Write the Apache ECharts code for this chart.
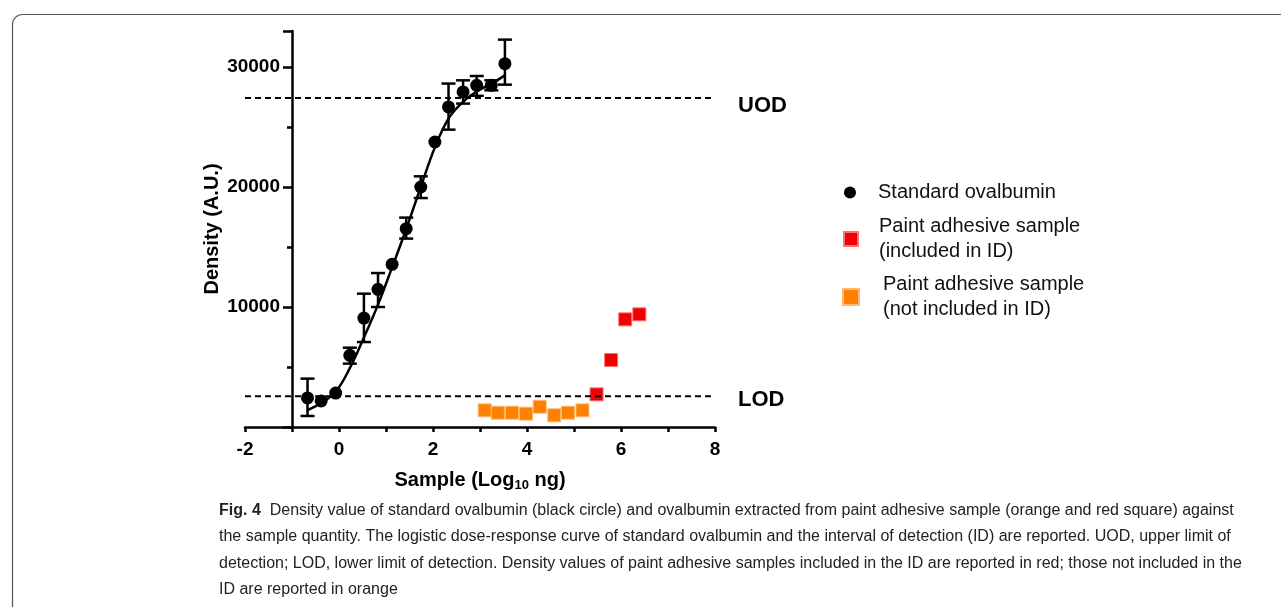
<!DOCTYPE html>
<html>
<head>
    <meta charset="utf-8">
    <title>Fig. 4</title>
    <script src="https://cdn.jsdelivr.net/npm/echarts@6/dist/echarts.min.js"></script>
    <style>
        html, body { margin: 0; padding: 0; background: #fff; }
        #main { width: 1281px; height: 607px; }
    </style>
</head>
<body>
<div id="main"></div>
<script type="text/javascript">
    // standard ovalbumin (black circles) with error bars
    var stdX = [-0.67, -0.38, -0.07, 0.23, 0.53, 0.83, 1.13, 1.43, 1.74, 2.04, 2.33, 2.64, 2.93, 3.24, 3.53];
    var stdY = [2420, 2170, 2830, 5970, 9080, 11470, 13560, 16530, 20000, 23750, 26670, 27920, 28470, 28470, 30280];
    var errLow = [920, null, null, 5280, 7080, 10000, null, 15700, 19080, null, 24780, 26950, 27600, 28060, 28530];
    var errHigh = [4030, null, null, 6610, 11110, 12830, null, 17450, 20890, null, 28620, 28890, 29250, 28890, 32280];

    // logistic dose-response curve
    var curveX = [-0.67, -0.38, -0.07, 0.23, 0.53, 0.83, 1.13, 1.43, 1.74, 2.04, 2.33, 2.64, 2.93, 3.24, 3.53];
    var curveY = [1400, 2000, 2950, 4900, 7450, 10200, 13300, 16500, 20000, 23300, 25700, 27100, 27950, 28600, 29300];

    // paint adhesive samples
    var orangeX = [3.10, 3.38, 3.68, 3.98, 4.27, 4.58, 4.87, 5.18];
    var orangeY = [1390, 1190, 1190, 1110, 1690, 975, 1190, 1390];
    var redX = [5.48, 5.79, 6.09, 6.39];
    var redY = [2720, 5580, 8970, 9390];

    // detection limits
    var limitX = [-2, 8];
    var UOD = 27420;
    var LOD = 2560;

    var xTicks = [-2, 0, 2, 4, 6, 8];
    var yTicks = [10000, 20000, 30000];

    var captionLines = [
        'the sample quantity. The logistic dose-response curve of standard ovalbumin and the interval of detection (ID) are reported. UOD, upper limit of',
        'detection; LOD, lower limit of detection. Density values of paint adhesive samples included in the ID are reported in red; those not included in the',
        'ID are reported in orange'
    ];

    function zip(xs, ys) {
        var out = [];
        for (var i = 0; i < xs.length; i++) out.push([xs[i], ys[i]]);
        return out;
    }

    var errData = [];
    for (var i = 0; i < stdX.length; i++) {
        if (errLow[i] != null) errData.push([stdX[i], errLow[i], errHigh[i]]);
    }

    var FONT = '"Liberation Sans", Arial, sans-serif';
    var nameInc = 'Paint adhesive sample (included in ID)';
    var nameNot = 'Paint adhesive sample (not included in ID)';

    var chart = echarts.init(document.getElementById('main'));

    var graphics = [
        {
            type: 'rect', left: 10, top: 12, z: -1,
            shape: {width: 1300, height: 640, r: 10},
            style: {fill: 'none', stroke: '#555', lineWidth: 1.2}
        },
        {
            type: 'text', left: 219, top: 503,
            style: {
                text: '{b|Fig. 4}{n|  Density value of standard ovalbumin (black circle) and ovalbumin extracted from paint adhesive sample (orange and red square) against}',
                rich: {
                    b: {fontFamily: FONT, fontWeight: 'bold', fontSize: 16, fill: '#222'},
                    n: {fontFamily: FONT, fontSize: 16, fill: '#222'}
                }
            }
        }
    ];
    for (var k = 0; k < captionLines.length; k++) {
        graphics.push({
            type: 'text', left: 219, top: 529 + k * 26.5,
            style: {text: captionLines[k], fontFamily: FONT, fontSize: 16, fill: '#222'}
        });
    }

    function legendBox(name, top, iconType, size, pad) {
        return {
            data: [{name: name, icon: iconType}],
            left: 845 - size / 2, top: top,
            orient: 'vertical',
            itemWidth: size, itemHeight: size,
            selectedMode: false,
            formatter: function (n) {
                if (n === nameInc) return 'Paint adhesive sample\n(included in ID)';
                if (n === nameNot) return 'Paint adhesive sample\n(not included in ID)';
                return n;
            },
            textStyle: {
                fontFamily: FONT, fontSize: 20, color: '#111', lineHeight: 25,
                padding: [0, 0, 0, pad]
            }
        };
    }

    var option = {
        animation: false,
        textStyle: {fontFamily: FONT},
        graphic: graphics,
        legend: [
            legendBox('Standard ovalbumin', 175, 'circle', 12, 17),
            legendBox(nameInc, 209, 'rect', 14, 16),
            legendBox(nameNot, 267, 'rect', 16, 19)
        ],
        grid: {left: 245, right: 566, top: 31, bottom: 180},
        xAxis: {
            type: 'value', min: -2, max: 8, interval: 2,
            name: '{b|Sample (Log}{s|10}{b| ng)}',
            nameLocation: 'middle', nameGap: 42,
            nameTextStyle: {
                rich: {
                    b: {fontFamily: FONT, fontWeight: 'bold', fontSize: 20, color: '#000'},
                    s: {fontFamily: FONT, fontWeight: 'bold', fontSize: 13, color: '#000', verticalAlign: 'bottom', padding: [10, 0, 0, 0]}
                }
            },
            axisLine: {onZero: false, lineStyle: {color: '#000', width: 2.5}},
            axisTick: {length: 5, lineStyle: {color: '#000', width: 2.5}},
            minorTick: {show: true, splitNumber: 2, length: 5, lineStyle: {color: '#000', width: 2.5}},
            splitLine: {show: false},
            axisLabel: {color: '#000', fontWeight: 'bold', fontSize: 19, margin: 13, fontFamily: FONT}
        },
        yAxis: {
            type: 'value', min: 0, max: 33000, interval: 10000,
            offset: -47,
            name: 'Density (A.U.)',
            nameLocation: 'middle', nameGap: 70,
            nameTextStyle: {fontFamily: FONT, fontWeight: 'bold', fontSize: 20, color: '#000'},
            axisLine: {show: true, onZero: false, lineStyle: {color: '#000', width: 2.5}},
            axisTick: {length: 9, lineStyle: {color: '#000', width: 2.5}},
            minorTick: {show: true, splitNumber: 2, length: 5, lineStyle: {color: '#000', width: 2.5}},
            splitLine: {show: false},
            axisLabel: {
                color: '#000', fontWeight: 'bold', fontSize: 19, margin: 12, fontFamily: FONT,
                formatter: function (v) { return yTicks.indexOf(v) >= 0 ? String(v) : ''; }
            }
        },
        series: [
            {
                name: 'UOD', type: 'line', data: zip(limitX, [UOD, UOD]),
                symbol: 'none', silent: true,
                lineStyle: {color: '#000', width: 2, type: [6, 4]},
                endLabel: {show: true, formatter: 'UOD', distance: 23, offset: [0, 8], fontFamily: FONT, fontWeight: 'bold', fontSize: 22, color: '#000'}
            },
            {
                name: 'LOD', type: 'line', data: zip(limitX, [LOD, LOD]),
                symbol: 'none', silent: true,
                lineStyle: {color: '#000', width: 2, type: [6, 4]},
                endLabel: {show: true, formatter: 'LOD', distance: 23, offset: [0, 4], fontFamily: FONT, fontWeight: 'bold', fontSize: 22, color: '#000'}
            },
            {
                name: 'curve', type: 'line', data: zip(curveX, curveY),
                smooth: 0.4, symbol: 'none', silent: true,
                lineStyle: {color: '#000', width: 2.5}
            },
            {
                name: 'errors', type: 'custom', data: errData, silent: true,
                renderItem: function (params, api) {
                    var top = api.coord([api.value(0), api.value(2)]);
                    var bot = api.coord([api.value(0), api.value(1)]);
                    var hw = 7;
                    var st = {stroke: '#000', lineWidth: 2.5};
                    return {
                        type: 'group',
                        children: [
                            {type: 'line', shape: {x1: top[0], y1: top[1], x2: bot[0], y2: bot[1]}, style: st},
                            {type: 'line', shape: {x1: top[0] - hw, y1: top[1], x2: top[0] + hw, y2: top[1]}, style: st},
                            {type: 'line', shape: {x1: bot[0] - hw, y1: bot[1], x2: bot[0] + hw, y2: bot[1]}, style: st}
                        ]
                    };
                }
            },
            {
                name: 'Standard ovalbumin', type: 'scatter', data: zip(stdX, stdY),
                symbol: 'circle', symbolSize: 13,
                itemStyle: {color: '#000', opacity: 1}
            },
            {
                name: nameNot, type: 'scatter', data: zip(orangeX, orangeY),
                symbol: 'rect', symbolSize: 13,
                itemStyle: {color: '#ff8000', borderColor: '#ffb870', borderWidth: 1, opacity: 1}
            },
            {
                name: nameInc, type: 'scatter', data: zip(redX, redY),
                symbol: 'rect', symbolSize: 13,
                itemStyle: {color: '#f00000', borderColor: '#ff7070', borderWidth: 1, opacity: 1}
            }
        ]
    };

    chart.setOption(option);
</script>
</body>
</html>
